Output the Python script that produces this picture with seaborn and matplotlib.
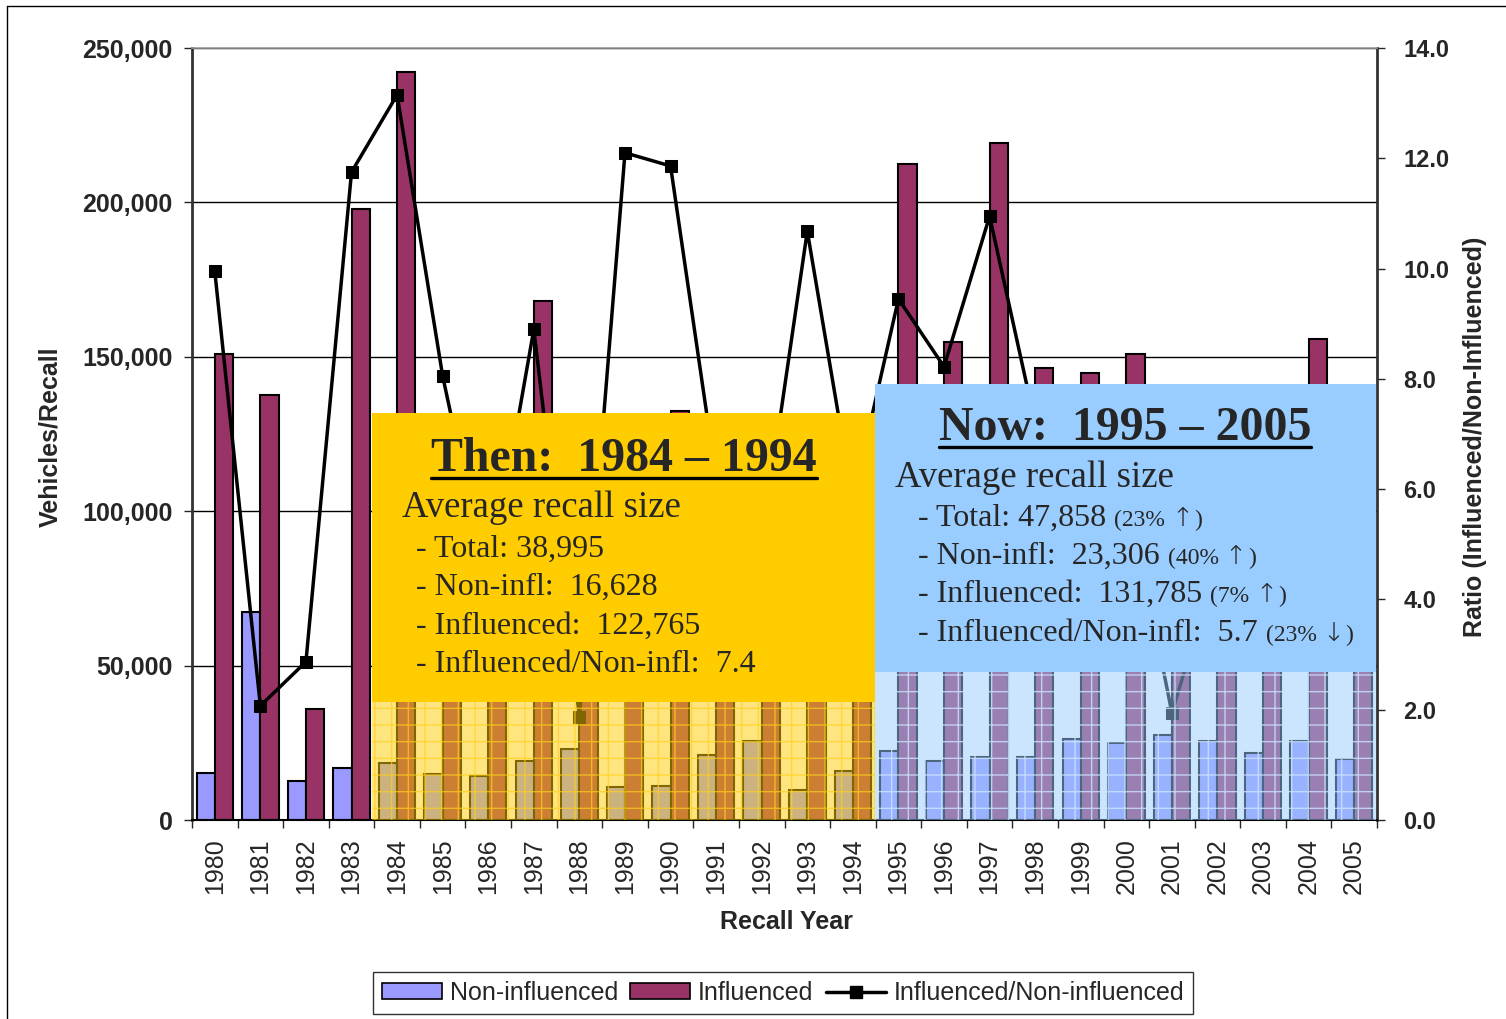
import numpy as np
import pandas as pd
import matplotlib
matplotlib.use('Agg')
import matplotlib.pyplot as plt
import seaborn as sns
from matplotlib.patches import Rectangle, Patch
from matplotlib.lines import Line2D

# ---------------- data ----------------
years = [str(y) for y in range(1980, 2006)]
non_influenced = [15200, 67400, 12600, 16900, 18400, 15000, 14400, 19100, 23000, 10800,
                  11100, 20900, 25700, 9800, 15800, 22300, 19100, 20300, 20300, 26200,
                  24800, 27500, 25700, 21700, 25700, 19700]
influenced = [151000, 137600, 35900, 197900, 242200, 120800, 60500, 168000, 43000, 130500,
              132400, 129600, 128500, 104700, 91600, 212400, 154800, 219200, 146400, 144800,
              150900, 53400, 121000, 87000, 155800, 69000]
ratio = [9.95, 2.07, 2.87, 11.75, 13.15, 8.05, 4.2, 8.9, 1.87, 12.1,
         11.86, 6.2, 5.0, 10.68, 5.8, 9.45, 8.22, 10.95, 7.2, 5.5,
         6.1, 1.94, 4.7, 4.0, 6.06, 3.5]
left_ticks = [0, 50000, 100000, 150000, 200000, 250000]
right_ticks = [0, 2, 4, 6, 8, 10, 12, 14]
series_names = ['Non-influenced', 'Influenced', 'Influenced/Non-influenced']
colors = {'Non-influenced': '#9999FF', 'Influenced': '#993366'}

then_title = 'Then:  1984 – 1994'
then_lines = ['Average recall size', '- Total: 38,995', '- Non-infl:  16,628',
              '- Influenced:  122,765', '- Influenced/Non-infl:  7.4']
now_title = 'Now:  1995 – 2005'
now_lines = [('Average recall size', None),
             ('- Total: 47,858', ('(23%', '↑')),
             ('- Non-infl:  23,306', ('(40%', '↑')),
             ('- Influenced:  131,785', ('(7%', '↑')),
             ('- Influenced/Non-infl:  5.7', ('(23%', '↓'))]

# ---------------- style ----------------
sns.set_style('white')
plt.rcParams['font.family'] = ['Liberation Sans', 'DejaVu Sans']
SERIF = ['Liberation Serif', 'DejaVu Serif']

W, H = 1506, 1019
def fx(x):
    return x / W
def fy(y):
    return 1 - y / H

fig = plt.figure(figsize=(W / 100, H / 100), dpi=100)
ax = fig.add_axes([fx(192), fy(820), (1377 - 192) / W, (820 - 48) / H])

df = pd.DataFrame({
    'year': years * 2,
    'value': non_influenced + influenced,
    'series': ['Non-influenced'] * len(years) + ['Influenced'] * len(years),
})
sns.barplot(data=df, x='year', y='value', hue='series', palette=colors,
            hue_order=['Non-influenced', 'Influenced'], saturation=1,
            edgecolor='black', linewidth=1.5, width=0.8, legend=False, ax=ax)

ax.set_xlim(-0.5, len(years) - 0.5)
ax.set_ylim(0, 250000)
ax.set_yticks(left_ticks)
ax.set_yticklabels([f'{v:,}' for v in left_ticks], fontsize=18, fontweight='bold')
ax.yaxis.grid(True, color='black', linewidth=1)
ax.set_axisbelow(True)
ax.set_xlabel('')
ax.set_ylabel('')
ax.tick_params(axis='y', direction='out', length=6, width=1, pad=8, left=True)
ax.tick_params(axis='x', which='major', length=0, pad=13, labelsize=18, labelrotation=90)
ax.set_xticks(np.arange(-0.5, len(years), 1.0), minor=True)
ax.tick_params(axis='x', which='minor', length=6, width=1, bottom=True, direction='out')
for s in ax.spines.values():
    s.set_visible(False)

ax2 = ax.twinx()
sns.lineplot(x=np.arange(len(years)), y=ratio, ax=ax2, color='black', marker='s',
             markersize=8, markeredgecolor='black', linewidth=2.5)
ax2.set_ylim(0, 14)
ax2.set_xlim(-0.5, len(years) - 0.5)
ax2.set_yticks(right_ticks)
ax2.set_yticklabels([f'{v:.1f}' for v in right_ticks], fontsize=17, fontweight='bold')
ax2.tick_params(axis='y', direction='out', length=6, width=1, pad=13, right=True)
ax2.set_ylabel('')
ax2.spines['left'].set_color('#333333'); ax2.spines['left'].set_linewidth(2)
ax2.spines['right'].set_color('#333333'); ax2.spines['right'].set_linewidth(2)
ax2.spines['bottom'].set_color('black'); ax2.spines['bottom'].set_linewidth(1.5)
ax2.spines['top'].set_color('#999999'); ax2.spines['top'].set_linewidth(1.2)

# axis labels
fig.text(fx(50), fy(437), 'Vehicles/Recall', rotation=90, ha='center', va='center',
         fontsize=18, fontweight='bold')
fig.text(fx(1475), fy(437), 'Ratio (Influenced/Non-Influenced)', rotation=90,
         ha='center', va='center', fontsize=18, fontweight='bold')
fig.text(fx(786), fy(922), 'Recall Year', ha='center', va='center',
         fontsize=18, fontweight='bold')

# ---------------- overlay boxes ----------------
def box(x0, x1, y_top, y_mid, y_bot, color, hatch_color, z=2):
    fig.add_artist(Rectangle((fx(x0), fy(y_mid)), (x1 - x0) / W, (y_mid - y_top) / H,
                             transform=fig.transFigure, facecolor=color,
                             edgecolor='none', zorder=z))
    r = Rectangle((fx(x0), fy(y_bot)), (x1 - x0) / W, (y_bot - y_mid) / H,
                  transform=fig.transFigure, facecolor=matplotlib.colors.to_rgba(color, 0.5),
                  edgecolor=hatch_color, linewidth=0, hatch='+', zorder=z)
    fig.add_artist(r)

plt.rcParams['hatch.linewidth'] = 1.0
box(372, 875, 413, 702, 820, '#FFCC00', (1.0, 0.82, 0.1, 0.7))
box(875, 1376, 384, 672, 820, '#99CCFF', (0.8, 0.9, 1.0, 0.8))

t_then = fig.text(fx(624), fy(471), then_title, ha='center', va='baseline',
                  fontsize=34.5, fontweight='bold', family=SERIF, zorder=5)
then_pos = [(402, 517, 26.5), (416, 557, 23), (416, 595, 23), (416, 634, 23), (416, 672, 23)]
for line, (x, y, fs) in zip(then_lines, then_pos):
    fig.text(fx(x), fy(y), line, ha='left', va='baseline', fontsize=fs,
             family=SERIF, zorder=5)

t_now = fig.text(fx(1125), fy(440), now_title, ha='center', va='baseline',
                 fontsize=34.5, fontweight='bold', family=SERIF, zorder=5)
now_pos = [(895, 487, 26.5), (918, 526, 23), (918, 564, 23), (918, 602, 23), (918, 641, 23)]
big_texts = []
for (big, small), (x, y, fs) in zip(now_lines, now_pos):
    t = fig.text(fx(x), fy(y), big, ha='left', va='baseline', fontsize=fs,
                 family=SERIF, zorder=5)
    big_texts.append((t, small, y))

# legend
handles = [Patch(facecolor=colors['Non-influenced'], edgecolor='black', linewidth=1.2),
           Patch(facecolor=colors['Influenced'], edgecolor='black', linewidth=1.2),
           Line2D([], [], color='black', marker='s', markersize=8, linewidth=2.5)]
leg = fig.legend(handles, series_names, loc='center', bbox_to_anchor=(fx(783), fy(993)),
                 ncol=3, fontsize=18, frameon=True, fancybox=False, edgecolor='black',
                 handlelength=2.4, handleheight=0.6, handletextpad=0.3, columnspacing=0.5,
                 borderpad=0.35, borderaxespad=0)
leg.get_frame().set_linewidth(1)

# outer frame
fig.add_artist(Line2D([fx(7), fx(7)], [0, fy(6)], transform=fig.transFigure, color='black', lw=1))
fig.add_artist(Line2D([fx(7), 1], [fy(6), fy(6)], transform=fig.transFigure, color='black', lw=1))

# underline titles + small trailing texts (need measured extents)
fig.canvas.draw()
r = fig.canvas.get_renderer()
for t, yline in ((t_then, 478), (t_now, 447)):
    bb = t.get_window_extent(r)
    fig.add_artist(Line2D([bb.x0 / W, bb.x1 / W], [fy(yline), fy(yline)],
                          transform=fig.transFigure, color='black', lw=2.4, zorder=5))
for t, small, y in big_texts:
    if small:
        pct, arrow = small
        bb = t.get_window_extent(r)
        t1 = fig.text((bb.x1 + 8) / W, fy(y), pct, ha='left', va='baseline', fontsize=17,
                      family=SERIF, zorder=5)
        bb1 = t1.get_window_extent(r)
        t2 = fig.text((bb1.x1 + 6) / W, fy(y), arrow, ha='left', va='baseline', fontsize=19,
                      family=['DejaVu Sans'], fontweight='light', zorder=5)
        bb2 = t2.get_window_extent(r)
        fig.text((bb2.x1 + 1) / W, fy(y), ')', ha='left', va='baseline', fontsize=17,
                 family=SERIF, zorder=5)

fig.savefig('out.png', dpi=100)
